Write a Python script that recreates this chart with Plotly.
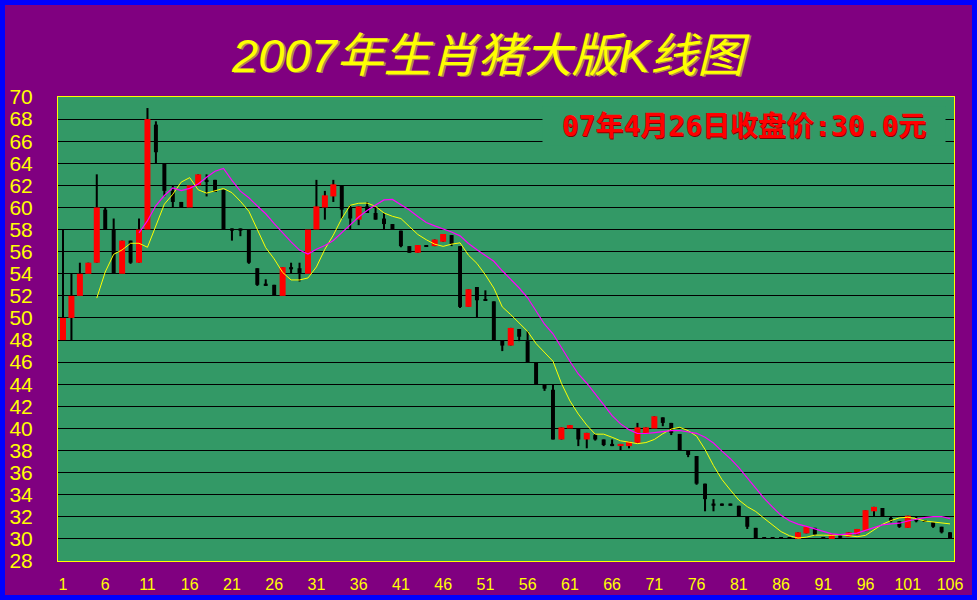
import plotly.graph_objects as go

# ---------------- data ----------------
days = list(range(1, 107))

open_ = [48, 50, 52, 54, 55, 59.8, 58, 54, 57, 55,
         58, 67.5, 64, 61.5, 60.5, 60, 62, 62.5, 62.5, 61.6,
         58.1, 58.1, 58, 54.5, 53.1, 53, 52, 54.6, 54.5, 54,
         58, 60, 61, 62, 60, 58.9, 60.1, 59.5, 59, 58.5,
         57.9, 56.5, 55.9, 56.6, 56.5, 56.9, 57.5, 56.5, 51, 52.8,
         51.7, 51.5, 48, 47.5, 49, 47.9, 46, 44, 43.5, 39,
         40, 40, 39, 39.4, 39, 38.6, 38.4, 38.4, 38.7, 39.5,
         40, 41, 40.5, 39.5, 38, 37.5, 35, 33.2, 33.2, 33.2,
         33, 32, 31, 30.1, 30.1, 30.1, 30.1, 30, 30.5, 31,
         30.1, 30, 30.3, 30.2, 30.4, 30.7, 32.5, 32.8, 31.9, 31.6,
         31, 31.9, 31.7, 31.5, 31.1, 30.6]

high = [58, 54, 55, 55, 63, 60, 59, 57, 57, 59,
        69, 67.8, 64, 62, 60.5, 62, 63, 63, 62.5, 61.6,
        58.1, 58.1, 58, 54.5, 53.5, 53, 54.6, 55, 55, 58,
        62.5, 61.5, 62.5, 62, 60.2, 60.1, 60.5, 60, 59.5, 58.5,
        57.9, 56.5, 56.6, 56.6, 57.1, 57.6, 57.5, 56.5, 52.6, 52.8,
        52.5, 51.5, 48, 49.1, 49, 48.8, 46, 44, 44, 40.1,
        40.3, 40, 39.6, 39.5, 39, 39, 38.6, 38.8, 40.5, 40.1,
        41.1, 41, 40.5, 39.5, 38, 37.5, 35, 33.6, 33.2, 33.2,
        33, 32, 31, 30.1, 30.1, 30.1, 30.1, 30.6, 31.1, 31,
        30.1, 30.4, 30.3, 30.6, 30.9, 32.6, 32.9, 32.8, 32, 31.6,
        32.1, 32, 31.7, 31.5, 31.1, 30.6]

low = [48, 48, 52, 54, 55, 58, 54, 54, 54.9, 55,
       58, 64, 61, 60, 60, 60, 62, 61, 61.4, 58,
       57, 57.4, 54.9, 52.9, 52.9, 52, 52, 54, 53.3, 54,
       58, 58.9, 60.5, 59, 58, 58.4, 59.5, 58.9, 58, 58,
       56.4, 55.9, 55.9, 56.5, 56.5, 56.9, 56.5, 50.9, 51, 50,
       51.6, 48, 47, 47.5, 47.9, 46, 44, 43.4, 39, 39,
       40, 38.4, 38.2, 38.9, 38.4, 38.4, 38, 38.2, 38.7, 39.5,
       40, 40.2, 39.4, 38, 37.4, 34.9, 32.5, 32.5, 33, 33,
       32, 30.9, 30, 30, 30, 30, 30, 30, 30.5, 30.3,
       30, 30, 30, 30.2, 30.4, 30.7, 32, 32, 31.5, 31,
       31, 31.5, 31.55, 31, 30.5, 30]

close = [50, 52, 54, 55, 60, 58, 54, 57, 55, 58,
         68, 65, 61.5, 60.5, 60, 62, 63, 62.3, 61.4, 58,
         57.9, 57.9, 55, 53, 52.9, 52, 54.6, 54.4, 54, 58,
         60.1, 61.1, 62.1, 59.8, 59, 60.1, 59.5, 58.9, 58.5, 58,
         56.5, 55.9, 56.6, 56.5, 57.1, 57.6, 56.7, 51, 52.6, 51.6,
         51.6, 48, 47.5, 49.1, 48.3, 46, 44, 43.6, 39, 40.1,
         40.3, 39, 39.6, 39, 38.5, 38.4, 38.6, 38.8, 40.1, 40.1,
         41.1, 40.5, 39.6, 38, 37.6, 35, 33.6, 33, 33, 33,
         32, 31.1, 30, 30, 30, 30, 30, 30.6, 31.1, 30.4,
         30, 30.4, 30.1, 30.6, 30.9, 32.6, 32.9, 32, 31.6, 31.1,
         32.1, 31.6, 31.6, 31.1, 30.6, 30]

# yellow average line, days 5..106
ma5_days = list(range(5, 107))
ma5 = [51.8, 54.16, 55.76, 56.16, 56.76, 56.76, 56.4, 58.3, 60.3, 61.2,
       62.3, 62.7, 61.6, 61.3, 61.5, 61.72, 61.34, 60.56, 59.66, 58.06,
       56.36, 55.34, 54.12, 53.44, 53.44, 53.62, 54.62, 56.22, 57.5, 59.0,
       60.2, 60.38, 60.4, 60.1, 59.5, 59.2, 59.0, 58.28, 57.56, 57.08,
       56.68, 56.48, 56.68, 56.8, 55.68, 54.94, 53.9, 52.7, 51.0, 50.3,
       49.54, 48.78, 47.68, 46.88, 46.08, 44.08, 42.5, 41.3, 40.3, 39.48,
       39.48, 39.2, 38.88, 38.76, 38.62, 38.72, 39.0, 39.52, 39.94, 40.1,
       39.8, 39.3, 38.1, 36.64, 35.38, 34.42, 33.52, 32.92, 32.48, 31.86,
       31.24, 30.66, 30.28, 30.08, 30.16, 30.34, 30.34, 30.32, 30.38, 30.32,
       30.2, 30.32, 30.82, 31.32, 31.66, 31.9, 31.96, 31.84, 31.62, 31.54,
       31.44, 31.36]

# magenta average line, days 10..106
ma10_days = list(range(10, 107))
ma10 = [57.7, 58.8, 60.18, 61.08, 61.78, 61.53, 61.73, 62.13, 62.73, 63.28,
        63.54, 62.45, 61.48, 60.88, 60.13, 59.43, 58.53, 57.69, 56.89, 56.14,
        55.78, 56.22, 56.56, 57.01, 57.76, 58.43, 59.14, 59.73, 60.23, 60.68,
        60.73, 60.27, 59.77, 59.18, 58.64, 58.33, 58.08, 57.78, 57.43, 56.74,
        56.17, 55.63, 55.13, 54.27, 53.52, 52.71, 51.83, 50.68, 49.43, 48.57,
        47.3, 46.08, 44.93, 44.09, 43.13, 42.13, 41.15, 40.41, 39.89, 39.54,
        39.54, 39.62, 39.72, 39.81, 39.81, 39.71, 39.56, 39.2, 38.68, 37.95,
        37.26, 36.45, 35.55, 34.6, 33.66, 32.87, 32.13, 31.64, 31.34, 31.13,
        30.91, 30.62, 30.46, 30.39, 30.44, 30.52, 30.77, 31.05, 31.27, 31.36,
        31.42, 31.62, 31.78, 31.92, 32.01, 32.03, 31.83]

x_ticks = list(range(1, 107, 5))
y_ticks = list(range(28, 71, 2))
title_text = "2007年生肖猪大版K线图"
note_text = "07年4月26日收盘价:30.0元"

# ---------------- figure ----------------
PURPLE = "#800080"
GREEN = "#339966"
YELLOW = "#FFFF00"

up = [i for i in range(len(days)) if close[i] >= open_[i]]
dn = [i for i in range(len(days)) if close[i] < open_[i]]

fig = go.Figure()
# wicks (black for every candle)
fig.add_trace(go.Bar(
    x=days, y=[h - l for h, l in zip(high, low)], base=low,
    width=0.24, marker=dict(color="black", line=dict(width=0)),
    hoverinfo="skip"))
# rising bodies (red)
fig.add_trace(go.Bar(
    x=[days[i] for i in up], y=[close[i] - open_[i] for i in up],
    base=[open_[i] for i in up], width=0.71,
    marker=dict(color="#FF0000", line=dict(width=0))))
# falling bodies (black)
fig.add_trace(go.Bar(
    x=[days[i] for i in dn], y=[open_[i] - close[i] for i in dn],
    base=[close[i] for i in dn], width=0.47,
    marker=dict(color="black", line=dict(width=0))))
# average lines
fig.add_trace(go.Scatter(x=ma5_days, y=ma5, mode="lines",
                         line=dict(color=YELLOW, width=1)))
fig.add_trace(go.Scatter(x=ma10_days, y=ma10, mode="lines",
                         line=dict(color="#FF00FF", width=1.2)))

L, R, T, B = 58, 23, 97, 39
W, H = 977, 600
pw, ph = W - L - R, H - T - B


def px(xp):
    return (xp - L) / pw


def py(yp):
    return (H - B - yp) / ph


fig.update_layout(
    width=W, height=H, autosize=False,
    margin=dict(l=L, r=R, t=T, b=B, pad=0, autoexpand=False),
    paper_bgcolor=PURPLE, plot_bgcolor=GREEN,
    showlegend=False, barmode="overlay",
    xaxis=dict(range=[0.41, 106.47], tickmode="array", tickvals=x_ticks,
               ticktext=[str(v) for v in x_ticks], showgrid=False,
               zeroline=False, showline=True, mirror=True,
               linecolor=YELLOW, linewidth=1, ticks="", automargin=False,
               tickfont=dict(family="Liberation Sans, Arial, sans-serif",
                             size=16, color=YELLOW),
               ticklabelstandoff=9, fixedrange=True),
    yaxis=dict(range=[28, 70], tickmode="array", tickvals=y_ticks,
               ticktext=[str(v) for v in y_ticks], showgrid=True,
               gridcolor="black", gridwidth=1, zeroline=False,
               showline=True, mirror=True, linecolor=YELLOW, linewidth=1,
               ticks="", automargin=False,
               tickfont=dict(family="Liberation Sans, Arial, sans-serif",
                             size=21, color=YELLOW),
               ticklabelstandoff=20, fixedrange=True),
    shapes=[dict(type="rect", xref="paper", yref="paper",
                 x0=px(2.5), x1=px(W - 2.5), y0=py(H - 2.5), y1=py(2.5),
                 line=dict(color="#0000FF", width=5), layer="above")],
    annotations=[
        dict(text=title_text, xref="paper", yref="paper",
             x=px(490), y=py(56), xanchor="center", yanchor="middle",
             showarrow=False,
             font=dict(family="Liberation Sans, Noto Sans CJK SC, sans-serif",
                       size=47, color=YELLOW, style="italic",
                       shadow="2px 1px 0px #B09040")),
        dict(text=note_text, xref="paper", yref="paper",
             x=px(744), y=py(126), xanchor="center", yanchor="middle",
             width=402, height=38, align="center", bgcolor=GREEN,
             borderpad=0, showarrow=False,
             font=dict(family="DejaVu Sans Mono, Noto Sans CJK SC, monospace",
                       size=28, color="#FF0000", weight="bold",
                       shadow="1px 1px 0px #800000")),
    ],
)

fig.write_html("out.html", config={"displayModeBar": False},
               post_script="document.body.style.margin='0px';")
